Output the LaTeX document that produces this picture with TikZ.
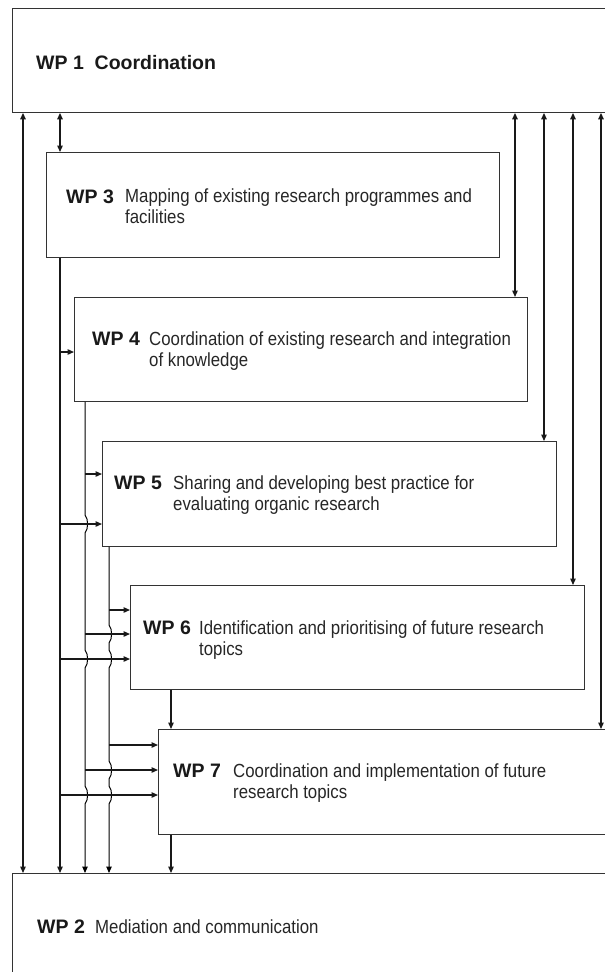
\documentclass[tikz,border=0pt]{standalone}
\usepackage{fontspec}
\setmainfont{Liberation Sans}
\newfontfamily\narrowfont[FakeStretch=0.885]{Liberation Sans}
\usetikzlibrary{arrows.meta}

\begin{document}
\begin{tikzpicture}[
    x=1pt, y=-1pt,
    >={Triangle[length=6.5pt,width=5.5pt]},
    wpbox/.style={draw=black!80, line width=0.9pt, rectangle, inner sep=0pt, anchor=north west},
    wpnum/.style={font=\bfseries\fontsize{19.5}{20}\selectfont, text=black!90, inner sep=0pt, anchor=base west},
    wptext/.style={font=\narrowfont\fontsize{19}{20.5}\selectfont, text=black!85, align=left, inner sep=0pt, anchor=base west},
    link/.style={line width=1.3pt, black!90},
    trunk/.style={line width=1pt, black}
]
\clip (0,0) rectangle (605,972);

% work package boxes
\node[wpbox, minimum width=640pt, minimum height=104pt] (wp1) at (12,8) {};
\node[wpbox, minimum width=453pt, minimum height=105pt] (wp3) at (46,152) {};
\node[wpbox, minimum width=453pt, minimum height=104pt] (wp4) at (74,297) {};
\node[wpbox, minimum width=454pt, minimum height=105pt] (wp5) at (102,441) {};
\node[wpbox, minimum width=454pt, minimum height=104pt] (wp6) at (130,585) {};
\node[wpbox, minimum width=480pt, minimum height=105pt] (wp7) at (158,729) {};
\node[wpbox, minimum width=640pt, minimum height=130pt] (wp2) at (12,873) {};

% labels (two-line texts sit on the baseline of their last line)
\node[wpnum] (wp1n) at (36,69) {WP 1\ \ Coordination};
\node[wpnum] (wp3n) at (66,203) {WP 3};
\node[wptext] (wp3t) at (125,223) {Mapping of existing research programmes and\\facilities};
\node[wpnum] (wp4n) at (92,345) {WP 4};
\node[wptext] (wp4t) at (149,366) {Coordination of existing research and integration\\of knowledge};
\node[wpnum] (wp5n) at (114,489) {WP 5};
\node[wptext] (wp5t) at (173,510) {Sharing and developing best practice for\\evaluating organic research};
\node[wpnum] (wp6n) at (143,634) {WP 6};
\node[wptext] (wp6t) at (199,655) {Identification and prioritising of future research\\topics};
\node[wpnum] (wp7n) at (173,777) {WP 7};
\node[wptext] (wp7t) at (233,798) {Coordination and implementation of future\\research topics};
\node[wpnum] (wp2n) at (37,933) {WP 2};
\node[wptext] (wp2t) at (95,933) {Mediation and communication};

% links to and from WP 1
\draw[link, <->] (23,0 |- wp1.south) -- (23,0 |- wp2.north);
\draw[link, <->] (60,0 |- wp1.south) -- (60,0 |- wp3.north);
\foreach \x/\n in {515/wp4, 544/wp5, 573/wp6, 601/wp7}
    \draw[link, <->] (\x,0 |- wp1.south) -- (\x,0 |- \n.north);

% trunks down to WP 2
\draw[link, ->] (60,0 |- wp3.south) -- (60,0 |- wp2.north);
\draw[trunk, ->] (85,0 |- wp4.south)
    foreach \y in {524,659,795} { -- (85,\y-9) .. controls (88.5,\y-5) and (88.5,\y+5) .. (85,\y+9) }
    -- (85,0 |- wp2.north);
\draw[trunk, ->] (109,0 |- wp5.south)
    foreach \y in {634,659,770,795} { -- (109,\y-9) .. controls (112.5,\y-5) and (112.5,\y+5) .. (109,\y+9) }
    -- (109,0 |- wp2.north);
\draw[link, ->] (171,0 |- wp6.south) -- (171,0 |- wp7.north);
\draw[link, ->] (171,0 |- wp7.south) -- (171,0 |- wp2.north);

% branches into the boxes
\foreach \x/\y/\n in {60/352/wp4, 85/474/wp5, 60/524/wp5, 109/610/wp6, 85/634/wp6,
                      60/659/wp6, 109/745/wp7, 85/770/wp7, 60/795/wp7}
    \draw[link, ->] (\x,\y) -- (\n.west |- 0,\y);
\end{tikzpicture}
\end{document}
